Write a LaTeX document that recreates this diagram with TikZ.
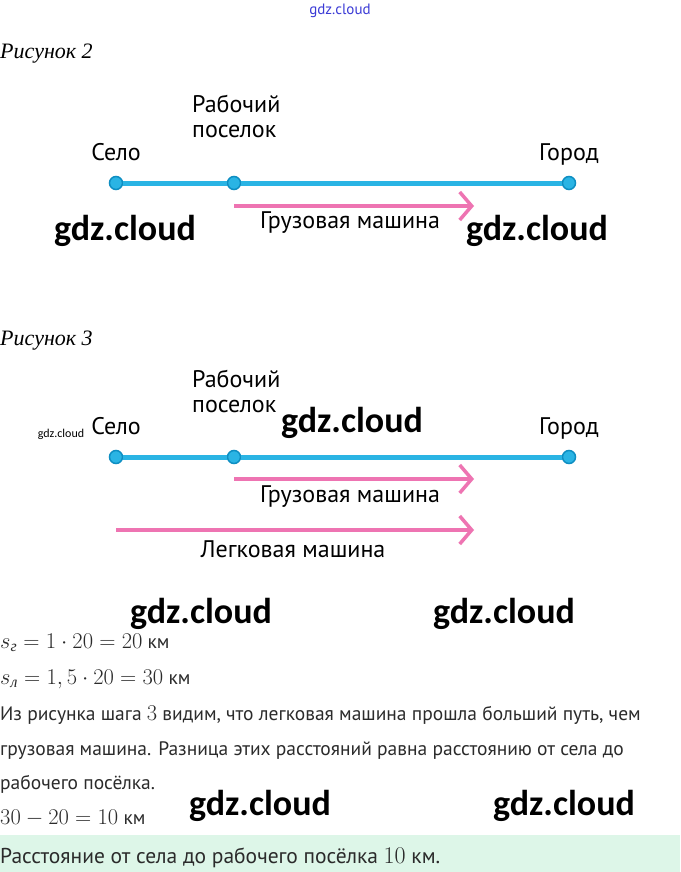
\RequirePackage{fix-cm}
\documentclass[tikz,border=0pt]{standalone}
\usepackage{amsmath}
\usepackage{fontspec}
\setmainfont{PT Sans}
\newfontfamily\capfont{Liberation Serif}
\newfontfamily\wmfont{Carlito}
\usetikzlibrary{arrows.meta}

\definecolor{roadblue}{HTML}{2AB4E4}
\definecolor{dotedge}{HTML}{0E8EC2}
\definecolor{carpink}{HTML}{EE74B2}
\definecolor{answergreen}{HTML}{DDF6E8}
\definecolor{wmblue}{HTML}{3B3BD6}
\definecolor{inkgray}{HTML}{2B2B2B}

\newcommand{\bigmath}[1]{{\fontsize{22.5}{24}\selectfont$#1$}}

\tikzset{
  road/.style={line width=5pt, roadblue},
  town/.style={circle, fill=roadblue, draw=dotedge, line width=1.5pt, minimum size=13pt, inner sep=0pt},
  townlabel/.style={font=\fontsize{24}{25}\selectfont, align=left, inner sep=0pt},
  carpath/.style={line width=3.5pt, carpink, -{Straight Barb[length=12pt,width=28pt,line width=3.5pt]}},
  carlabel/.style={font=\fontsize{24}{25}\selectfont, inner sep=0pt},
  figcap/.style={font=\capfont\itshape\fontsize{22}{24}\selectfont, anchor=base west, inner sep=0pt},
  bodytext/.style={font=\fontsize{19.5}{22}\selectfont, text=inkgray, anchor=base west, inner sep=0pt},
  watermark/.style={font=\wmfont\bfseries\fontsize{36}{40}\selectfont, inner sep=0pt}
}

\begin{document}
\begin{tikzpicture}[x=1pt, y=-1pt]
      \useasboundingbox (0,0) rectangle (680,872);
      \fill[white] (0,0) rectangle (680,872);

      % Figure 2
      \node[figcap] (cap2) at (0,59) {Рисунок 2};
      \node[town] (selo2) at (116,183) {};
      \node[town] (posel2) at (234,183) {};
      \node[town] (gorod2) at (569,183) {};
      \draw[road] (selo2) -- (posel2);
      \draw[road] (posel2) -- (gorod2);
      \node[townlabel, anchor=base] (selo2lab) at (116,160) {Село};
      \node[townlabel, anchor=base west] (posel2lab) at (192,138) {Рабочий\\поселок};
      \node[townlabel, anchor=base] (gorod2lab) at (569,160) {Город};
      \coordinate (truck2s) at (234,206);
      \coordinate (truck2e) at (474,206);
      \draw[carpath] (truck2s) -- (truck2e);
      \node[carlabel, anchor=base] (truck2lab) at (350,228) {Грузовая машина};

      % Figure 3
      \node[figcap] (cap3) at (0,345) {Рисунок 3};
      \node[town] (selo3) at (116,457) {};
      \node[town] (posel3) at (234,457) {};
      \node[town] (gorod3) at (569,457) {};
      \draw[road] (selo3) -- (posel3);
      \draw[road] (posel3) -- (gorod3);
      \node[townlabel, anchor=base] (selo3lab) at (116,434) {Село};
      \node[townlabel, anchor=base west] (posel3lab) at (192,412) {Рабочий\\поселок};
      \node[townlabel, anchor=base] (gorod3lab) at (569,434) {Город};
      \coordinate (truck3s) at (234,479);
      \coordinate (truck3e) at (474,479);
      \draw[carpath] (truck3s) -- (truck3e);
      \node[carlabel, anchor=base] (truck3lab) at (350,502) {Грузовая машина};
      \coordinate (auto3s) at (116,530);
      \coordinate (auto3e) at (474,530);
      \draw[carpath] (auto3s) -- (auto3e);
      \node[carlabel, anchor=base] (auto3lab) at (293,557) {Легковая машина};

      % Solution text
      \node[bodytext] (sg) at (0,648) {\bigmath{s_{\text{\capfont\itshape г}}=1\cdot20=20} км};
      \node[bodytext] (sl) at (0,684) {\bigmath{s_{\text{\capfont\itshape л}}=1,5\cdot20=30} км};
      \node[bodytext] (par1) at (0,720) {Из рисунка шага \bigmath{3} видим, что легковая машина прошла больший путь, чем};
      \node[bodytext] (par2) at (0,755) {грузовая машина. Разница этих расстояний равна расстоянию от села до};
      \node[bodytext] (par3) at (0,789) {рабочего посёлка.};
      \node[bodytext] (diff) at (0,824) {\bigmath{30-20=10} км};

      % Answer
      \fill[answergreen] (0,835) rectangle (680,872);
      \node[bodytext, font=\fontsize{21.5}{24}\selectfont] (answer) at (0,863) {Расстояние от села до рабочего посёлка {\fontsize{24}{26}\selectfont$10$} км.};

      % Watermarks
      \node[font=\fontsize{15}{16}\selectfont, text=wmblue, inner sep=0pt] (wmtop) at (340,11) {gdz.cloud};
      \node[watermark] (wm1) at (125,231) {gdz.cloud};
      \node[watermark] (wm2) at (537,231) {gdz.cloud};
      \node[watermark] (wm3) at (352,423) {gdz.cloud};
      \node[font=\wmfont\fontsize{12}{14}\selectfont, inner sep=0pt] (wm4) at (61,434) {gdz.cloud};
      \node[watermark] (wm5) at (201,614) {gdz.cloud};
      \node[watermark] (wm6) at (504,614) {gdz.cloud};
      \node[watermark] (wm7) at (260,806) {gdz.cloud};
      \node[watermark] (wm8) at (564,806) {gdz.cloud};
    \end{tikzpicture}
\end{document}
